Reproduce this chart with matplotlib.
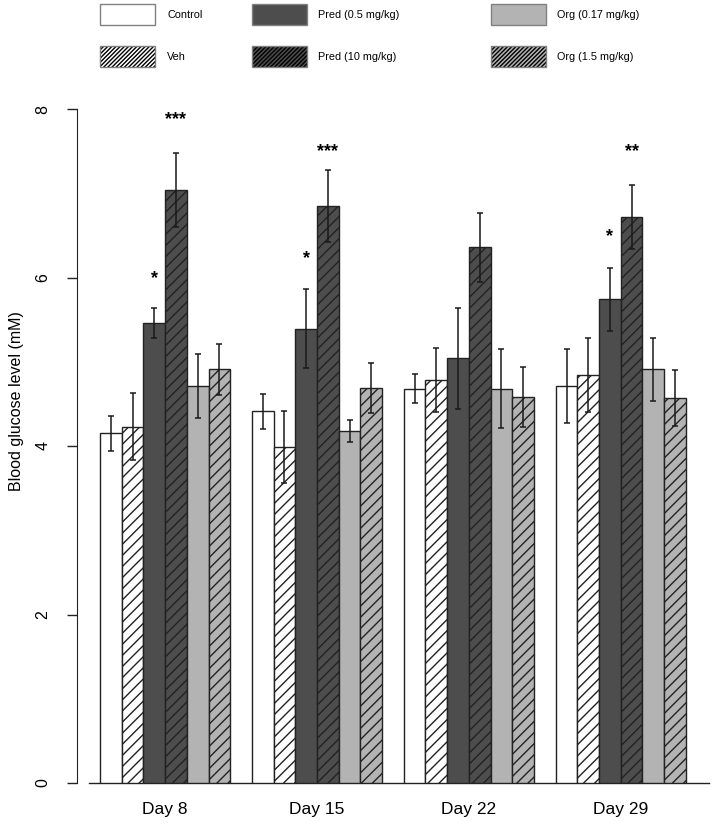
import matplotlib
matplotlib.use("Agg")
import matplotlib.pyplot as plt
from matplotlib.patches import Rectangle
import numpy as np

plt.rcParams['font.family'] = ['Liberation Sans', 'DejaVu Sans']

days = ["Day 8", "Day 15", "Day 22", "Day 29"]
groups = ["Control", "Veh", "Pred (0.5 mg/kg)", "Pred (10 mg/kg)", "Org (0.17 mg/kg)", "Org (1.5 mg/kg)"]

# values per group for each day
control = [4.15, 4.41, 4.68, 4.71]
veh = [4.23, 3.99, 4.78, 4.84]
pred05 = [5.46, 5.39, 5.04, 5.74]
pred10 = [7.04, 6.85, 6.36, 6.72]
org017 = [4.71, 4.18, 4.68, 4.91]
org15 = [4.91, 4.69, 4.58, 4.57]

control_err = [0.21, 0.21, 0.17, 0.44]
veh_err = [0.40, 0.43, 0.38, 0.44]
pred05_err = [0.18, 0.47, 0.60, 0.37]
pred10_err = [0.44, 0.43, 0.41, 0.38]
org017_err = [0.38, 0.13, 0.47, 0.37]
org15_err = [0.30, 0.30, 0.36, 0.33]

# significance marks
stars_day = [0, 0, 1, 1, 3, 3]
stars_grp = [2, 3, 2, 3, 2, 3]
stars_lbl = ["*", "***", "*", "***", "*", "**"]
stars_y = [5.99, 7.88, 6.22, 7.49, 6.48, 7.49]

values = [control, veh, pred05, pred10, org017, org15]
errors = [control_err, veh_err, pred05_err, pred10_err, org017_err, org15_err]

fills = ["white", "white", "#4d4d4d", "#4d4d4d", "#b3b3b3", "#b3b3b3"]
hatches = [None, "///", None, "///", None, "///"]

W, H = 715, 826
fig = plt.figure(figsize=(W / 100, H / 100), dpi=100)
left_px, right_px, top_px, bot_px = 76.6, 709.3, 109, 783
ax = fig.add_axes([left_px / W, (H - bot_px) / H, (right_px - left_px) / W, (bot_px - top_px) / H])

def xpos(day, grp):
    return 1 + 7 * day + grp + 0.5

for g in range(6):
    xs = [xpos(d, g) for d in range(4)]
    ax.bar(xs, values[g], width=1.0, color=fills[g], edgecolor="#222222",
           linewidth=1.0, hatch=hatches[g], zorder=2)
    ax.errorbar(xs, values[g], yerr=errors[g], fmt="none", ecolor="#1a1a1a",
                elinewidth=1.1, capsize=2.5, capthick=1.1, zorder=3)

for d, g, lbl, y in zip(stars_day, stars_grp, stars_lbl, stars_y):
    ax.text(xpos(d, g), y, lbl, ha="center", va="center", fontsize=13,
            fontweight="bold", zorder=4)

ax.set_xlim(-0.08, 29.08)
ax.set_ylim(0, 8)
ax.axhline(0, xmin=0.02, xmax=1.0, color="#222222", lw=1.0, zorder=1, clip_on=False)

for s in ["top", "right", "bottom"]:
    ax.spines[s].set_visible(False)
ax.spines["left"].set_color("#222222")
ax.set_yticks([0, 2, 4, 6, 8])
ax.set_yticklabels(["0", "2", "4", "6", "8"], rotation=90, va="center", fontsize=11.5)
ax.tick_params(axis="y", length=7, width=1.0, pad=12, color="#222222")
ax.set_xticks([1 + 7 * d + 3 for d in range(4)])
ax.set_xticklabels(days, fontsize=12.5)
ax.tick_params(axis="x", length=0, pad=14)
ax.set_ylabel("Blood glucose level (mM)", fontsize=11.5)
ax.yaxis.set_label_coords((24 - left_px) / (right_px - left_px), (bot_px - 401) / (bot_px - top_px))

# legend drawn on an overlay axes in pixel coordinates
lax = fig.add_axes([0, 0, 1, 1])
lax.set_xlim(0, W)
lax.set_ylim(H, 0)
lax.axis("off")
box_x = [100, 252, 491]
text_x = [167, 318, 557]
row_y = [4, 46]
box_w, box_h = 55, 21
leg_hatch = [None, "////////", None, "////////", None, "////////"]
for g in range(6):
    col = g // 2
    row = g % 2
    lax.add_patch(Rectangle((box_x[col], row_y[row]), box_w, box_h,
                            facecolor=fills[g], edgecolor="black", linewidth=0,
                            hatch=leg_hatch[g]))
    lax.add_patch(Rectangle((box_x[col], row_y[row]), box_w, box_h,
                            facecolor="none", edgecolor="#808080", linewidth=1.0))
    lax.text(text_x[col], row_y[row] + box_h / 2, groups[g], ha="left", va="center", fontsize=7.8)

fig.savefig("out.png", dpi=100)
